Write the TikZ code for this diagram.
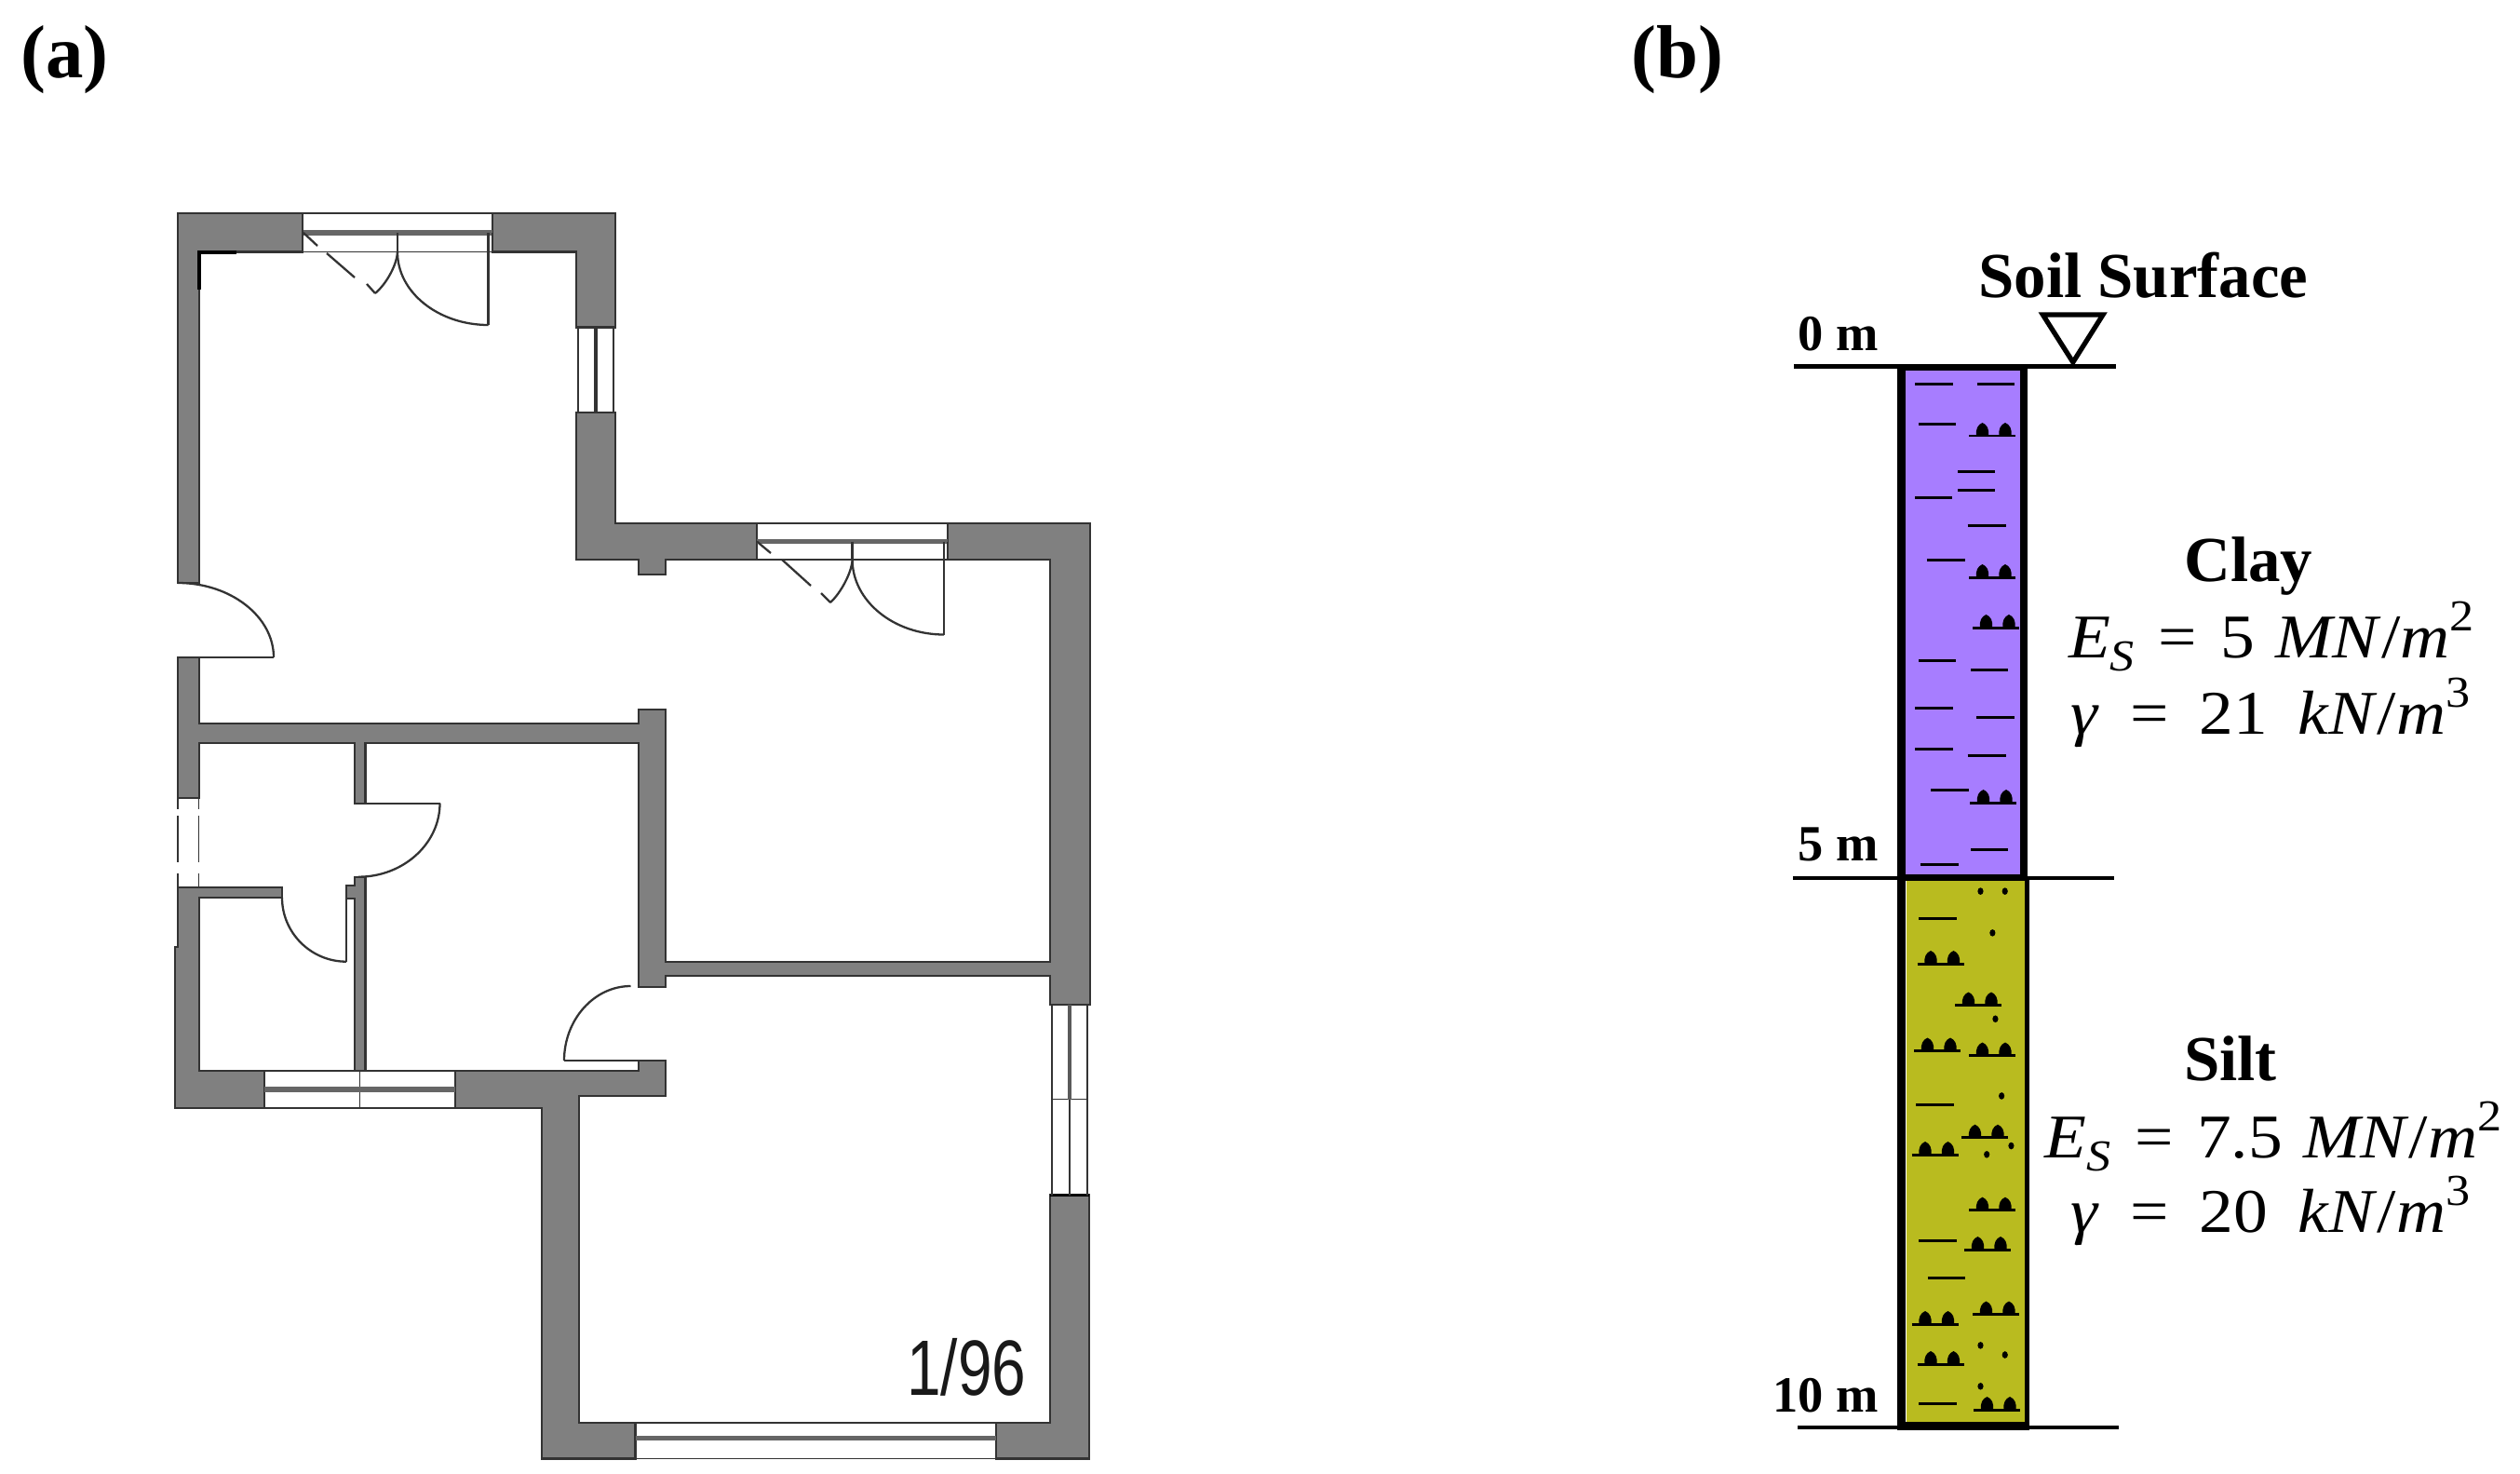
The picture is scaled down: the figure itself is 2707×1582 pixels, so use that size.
\documentclass[tikz,border=0pt]{standalone}
\usepackage{fontspec}
\setmainfont{Liberation Serif}
\newfontfamily\planfont{Liberation Sans}
\usetikzlibrary{calc}
\definecolor{wallgray}{HTML}{808080}
\definecolor{walledge}{HTML}{333333}
\definecolor{claycol}{HTML}{A77DFF}
\definecolor{siltcol}{HTML}{B9BB1F}
\tikzset{
  wall/.style={fill=wallgray,draw=walledge,line width=1.2pt,line join=miter},
  thinline/.style={draw=walledge,line width=0.8pt},
  midline/.style={draw=walledge,line width=1.2pt},
  band/.style={draw=wallgray!80!black,line width=3pt},
  door/.style={draw=walledge,line width=1.3pt},
  soilline/.style={draw=black,line width=2.4pt},
  tick/.style={draw=black,line width=1.7pt},
  lab/.style={font=\fontsize{31}{31}\selectfont\bfseries,anchor=base east,inner sep=0pt},
  head/.style={font=\fontsize{39.2}{39.2}\selectfont\bfseries,anchor=base west,inner sep=0pt},
  panel/.style={font=\fontsize{46}{46}\selectfont\bfseries,anchor=base west,inner sep=0pt},
  eqn/.style={font=\fontsize{38}{38}\selectfont,anchor=base west,inner sep=0pt,xscale=1.1,transform shape},
}
\newcommand{\qcurve}[3]{\draw[door] (#1) .. controls ($(#1)!.55!(#2)$) and ($(#3)!.55!(#2)$) .. (#3);}
\newcommand{\symb}[2]{%
  \draw[tick] (#1,#2) -- ++(50,0);
  \foreach \d in {14.5,39}{
    \fill[black] ($(#1,#2)+(\d-6.5,0)$) .. controls +(-1,-7) and +(-5,2) .. ($(#1,#2)+(\d,-14)$)
      .. controls +(5,2) and +(1,-7) .. ($(#1,#2)+(\d+6.5,0)$) -- cycle;
  }}
\newcommand{\sbs}[1]{\raisebox{-0.22em}{\fontsize{27}{27}\selectfont\itshape #1}}
\newcommand{\sps}[1]{\raisebox{0.42em}{\fontsize{27}{27}\selectfont #1}}
\newcommand{\eqsp}{\hspace{0.3em}}
\newcommand{\eqq}{\hspace{0.1em} = \hspace{0.1em}}
\newcommand{\eqspg}{\hspace{0.45em}}
\newcommand{\eqqg}{\hspace{0.2em} = \hspace{0.2em}}
\begin{document}
\begin{tikzpicture}[x=0.02cm,y=-0.02cm]
\useasboundingbox (0,0) rectangle (2707,1582);
\fill[white] (0,0) rectangle (2707,1582);

% ---------- panel labels
\node[panel] (pa) at (22,83) {(a)};
\node[panel] (pb) at (1752,83) {(b)};

% ---------- floor plan: walls
\draw[wall] (325,229)--(191,229)--(191,626)--(213.6,626)--(213.6,270.5)--(325,270.5)--cycle;
\draw[wall] (529,229)--(661,229)--(661,351.5)--(619,351.5)--(619,270.5)--(529,270.5)--cycle;
\draw[wall] (619,443)--(661,443)--(661,562)--(813,562)--(813,601)--(715,601)--(715,617)--(686,617)--(686,601)--(619,601)--cycle;
\draw[wall] (1018,562)--(1170.6,562)--(1170.6,1079)--(1128,1079)--(1128,1048)--(715,1048)--(715,1060)--(686,1060)--(686,798)--(392.5,798)--(392.5,862.7)--(381.4,862.7)--(381.4,798)--(213.6,798)--(213.6,857)--(191,857)--(191,706)--(213.6,706)--(213.6,776.7)--(686,776.7)--(686,762)--(715,762)--(715,1033.3)--(1128,1033.3)--(1128,601)--(1018,601)--cycle;
\draw[wall] (191,952.7)--(303,952.7)--(303,964)--(213.6,964)--(213.6,1150)--(284,1150)--(284,1190)--(187.6,1190)--(187.6,1017)--(191,1017)--cycle;
\draw[wall] (385,941.7)--(392.5,941.7)--(392.5,1150)--(381.4,1150)--(381.4,965)--(372,965)--(372,951)--(381.4,951)--(381.4,941.7)--cycle;
\draw[wall] (489,1150)--(686,1150)--(686,1139)--(715,1139)--(715,1177)--(622,1177)--(622,1527.8)--(682.5,1527.8)--(682.5,1566.5)--(582,1566.5)--(582,1190)--(489,1190)--cycle;
\draw[wall] (1070,1527.8)--(1128,1527.8)--(1128,1283.5)--(1170.4,1283.5)--(1170.4,1566.5)--(1070,1566.5)--cycle;

% top-left inner corner
\draw[draw=black,line width=1.8pt] (254,271)--(214,271)--(214,311);

% ---------- windows
% top
\draw[thinline] (325,229)--(529,229) (325,270.5)--(529,270.5);
\draw[band] (326,250)--(529,250);
\draw[midline] (529,250)--(529,270.5);
% upper right
\draw[midline] (619,351.5)--(661,351.5) (619,443)--(661,443);
\draw[thinline] (621,351.5)--(621,443) (659,351.5)--(659,443);
\draw[draw=walledge,line width=1.8pt] (640,351.5)--(640,443);
% middle
\draw[thinline] (813,562)--(1018,562) (813,601)--(1018,601);
\draw[band] (813,581.5)--(1018,581.5);
\draw[midline] (1018,581.5)--(1018,601);
% lower left (bath)
\draw[thinline] (284,1150)--(489,1150) (284,1190)--(489,1190) (386.7,1150)--(386.7,1190);
\draw[band] (284,1170)--(489,1170);
% dashed left
\draw[midline] (191,857)--(213.6,857);
\draw[thinline] (191,857)--(191,869) (213.6,857)--(213.6,869)
  (191,876)--(191,926) (213.6,876)--(213.6,926) (191,938)--(191,952) (213.6,938)--(213.6,952);
% bottom
\draw[thinline] (682.5,1527.8)--(1070,1527.8) (682.5,1566.5)--(1070,1566.5);
\draw[band] (682.5,1544.7)--(1070,1544.7);
% lower right
\draw[midline] (1128,1079)--(1170.4,1079);
\draw[draw=black,line width=1.2pt] (1128,1283.5)--(1170.4,1283.5);
\draw[thinline] (1130,1079)--(1130,1283.5) (1168,1079)--(1168,1283.5) (1130,1180.6)--(1168,1180.6) (1149,1180.6)--(1149,1283.5);
\draw[draw=wallgray!70!black,line width=2.6pt] (1149,1079)--(1149,1180.6);

% ---------- doors
\draw[door] (524.6,250)--(524.6,349);
\draw[door] (427,250)--(427,271);
\qcurve{427,271}{427,349}{524.6,349}
\draw[door] (427,271) .. controls (426,285) and (415,305) .. (403,315);
\draw[door] (326,250)--(341,264) (351,272)--(381,298) (394,305)--(403,315);
\draw[door] (1014,581.5)--(1014,681.5);
\draw[door] (915.6,581.5)--(915.6,601);
\qcurve{915.6,601}{915.6,681.5}{1014,681.5}
\draw[door] (915.6,601) .. controls (915,615) and (903,637) .. (892,647);
\draw[door] (813,581.5)--(828,594) (840,601)--(871,629) (882,637)--(892,647);
\qcurve{191,626}{294,626}{294,706}
\draw[door] (190,706)--(294,706);
\draw[door] (381.4,862.7)--(472.5,862.7);
\qcurve{472.5,862.7}{472.5,941.7}{385,941.7}
\draw[door] (372,965)--(372,1032.7);
\qcurve{303,964}{303,1032.7}{372,1032.7}
\draw[door] (606,1139)--(686,1139);
\qcurve{606,1139}{606,1059}{677.5,1059}

\node[font=\planfont\fontsize{48}{48}\selectfont,color=black!90,anchor=base west,inner sep=0pt,xscale=0.78,transform shape] (scale96) at (974,1498) {1/96};

% ---------- soil column
\fill[claycol] (2046,394) rectangle (2171,942);
\fill[siltcol] (2048,942) rectangle (2176,1530);
\fill[black] (2038,391) rectangle (2047,1535);
\fill[black] (2170,391) rectangle (2178,942);
\fill[black] (2175,942) rectangle (2179.5,1535);
\fill[black] (2038,391) rectangle (2178,398);
\fill[black] (2038,939) rectangle (2178,946);
\fill[black] (2038,1527) rectangle (2179.5,1536);
\coordinate (t0a) at (1927,393.5); \coordinate (t0b) at (2273,393.5);
\coordinate (t5a) at (1926,943); \coordinate (t5b) at (2270.5,943);
\coordinate (t10a) at (1931,1533); \coordinate (t10b) at (2275.7,1533);
\draw[soilline] (t0a)--(t0b);
\draw[soilline] (t5a)--(t5b);
\draw[soilline] (t10a)--(t10b);
% water table triangle
\draw[black,line width=3pt,line join=miter] (2194.4,338)--(2259,338)--(2226.8,389)--cycle;

% clay dashes (coordinates of the zoomed crop)
\begin{scope}[shift={(1900,250)},xscale=0.51467,yscale=0.44643]
\foreach \a/\b/\c in {305/385/365,435/513/365,313/390/461,395/473/575,395/473/619,305/383/638,415/495/704,330/410/788,313/390/1030,422/500/1052,305/385/1143,433/513/1165,305/385/1242,415/495/1257,338/418/1340,422/500/1484,316/396/1520}
  \draw[tick] (\a,\c)--(\b,\c);
\end{scope}
% silt dashes and dots
\begin{scope}[shift={(1900,920)},xscale=0.51467,yscale=0.42194]
\foreach \a/\b/\c in {313/393/158,307/387/632,313/393/978,332/410/1072,313/393/1392}
  \draw[tick] (\a,\c)--(\b,\c);
\foreach \a/\c in {442/88,493/88,467/194,473/413,486/609,506/736,455/758,442/1244,493/1268,442/1348}
  \fill[black] (\a,\c) ellipse [x radius=6,y radius=9];
\end{scope}
% clay symbols
\foreach \p/\q in {2115/468,2115/620,2119/674,2116/862} { \symb{\p}{\q} }
% silt symbols
\foreach \p/\q in {2059.5/1035,2100/1079.5,2056/1128.5,2115/1133.5,2107/1221.7,2053.5/1240,2115/1299.7,2110/1342,2119/1411.5,2053.5/1422,2059.5/1465,2120/1514}{ \symb{\p}{\q} }

% ---------- labels of the column
\node[head] (surface) at (2125,319) {Soil Surface};
\node[lab] (l0) at (2018,376) {0 m};
\node[lab] (l5) at (2018,924) {5 m};
\node[lab] (l10) at (2018,1516) {10 m};
\node[head] (clay) at (2346,624) {Clay};
\node[eqn] (eq1) at (2221.7,706) {\textit{E}\sbs{S}\eqq 5\eqsp\textit{MN}/\textit{m}\sps{2}};
\node[eqn] (eq2) at (2224,788) {\textit{γ}\eqqg 21\eqspg\textit{kN}/\textit{m}\sps{3}};
\node[head] (silt) at (2346,1160) {Silt};
\node[eqn] (eq3) at (2196,1243) {\textit{E}\sbs{S}\eqq 7.5\eqsp\textit{MN}/\textit{m}\sps{2}};
\node[eqn] (eq4) at (2224,1323) {\textit{γ}\eqqg 20\eqspg\textit{kN}/\textit{m}\sps{3}};
\end{tikzpicture}
\end{document}
